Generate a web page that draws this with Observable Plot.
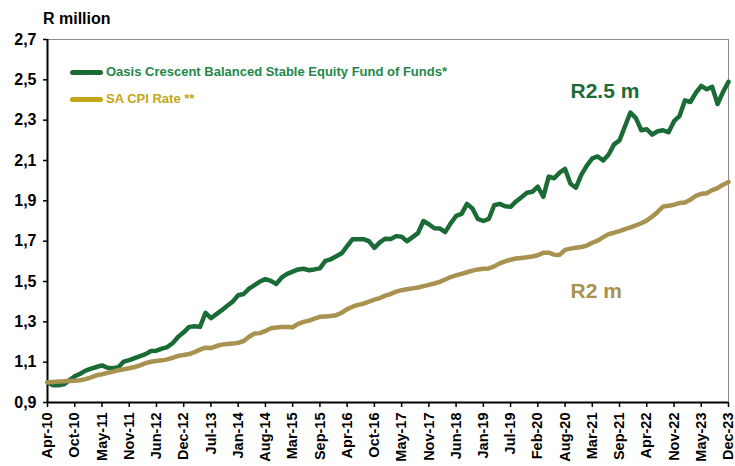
<!DOCTYPE html>
<html><head><meta charset="utf-8">
<script src="https://cdn.jsdelivr.net/npm/d3@7"></script>
<script src="https://cdn.jsdelivr.net/npm/@observablehq/plot@0.6"></script>
<style>
body{margin:0;background:#fff;font-family:"Liberation Sans",Arial,sans-serif;}
#wrap{position:relative;width:735px;height:466px;overflow:hidden;}
#ytitle{position:absolute;left:43px;top:11px;font-size:16px;line-height:16px;font-weight:bold;color:#000;}
.leg{position:absolute;left:70px;font-size:13px;font-weight:bold;line-height:14px;white-space:nowrap;display:flex;align-items:center;}
.sw{display:inline-block;width:33px;height:5px;border-radius:3px;margin-right:3px;}
</style></head><body><div id="wrap"></div>
<script>
// X tick labels (one every 5 samples)
const tickLabels = ["Apr-10","Oct-10","May-11","Nov-11","Jun-12","Dec-12","Jul-13","Jan-14","Aug-14","Mar-15","Sep-15","Apr-16","Oct-16","May-17","Nov-17","Jun-18","Jan-19","Jul-19","Feb-20","Aug-20","Mar-21","Sep-21","Apr-22","Nov-22","May-23","Dec-23"];
const yTicks = [0.9,1.1,1.3,1.5,1.7,1.9,2.1,2.3,2.5,2.7];
const seriesNames = ["Oasis Crescent Balanced Stable Equity Fund of Funds*","SA CPI Rate **"];
const seriesColors = ["#1b6b37","#a8924f"];
const legendColors = ["#1b6b37","#c3a51a"];
const legendTextColors = ["#22884a","#c3a51a"];
const endLabels = ["R2.5 m","R2 m"];
const endLabelAt = [[96,2.443],[96,1.45]];

// Fund value (R million), sampled evenly Apr-10 .. Dec-23
const fund = [1.00,0.985,0.985,0.99,1.01,1.03,1.043,1.058,1.068,1.076,
1.084,1.072,1.07,1.075,1.103,1.11,1.12,1.13,1.14,1.155,
1.157,1.167,1.175,1.195,1.226,1.248,1.275,1.278,1.275,1.345,
1.318,1.338,1.358,1.38,1.40,1.432,1.438,1.465,1.482,1.50,
1.512,1.503,1.488,1.52,1.538,1.549,1.56,1.563,1.556,1.56,
1.565,1.602,1.61,1.625,1.64,1.675,1.71,1.71,1.71,1.70,
1.667,1.694,1.712,1.711,1.725,1.722,1.70,1.72,1.74,1.80,
1.784,1.764,1.763,1.745,1.788,1.825,1.835,1.885,1.862,1.81,
1.80,1.81,1.878,1.885,1.873,1.87,1.897,1.918,1.94,1.945,
1.97,1.92,2.02,2.012,2.04,2.058,1.985,1.965,2.03,2.075,
2.11,2.12,2.10,2.13,2.18,2.20,2.27,2.338,2.31,2.25,
2.255,2.228,2.245,2.25,2.24,2.295,2.32,2.398,2.39,2.435,
2.47,2.453,2.465,2.38,2.44,2.49];

// SA CPI accumulated value (R million)
const cpi = [1.00,1.002,1.004,1.005,1.007,1.008,1.01,1.016,1.025,1.035,
1.04,1.047,1.053,1.06,1.065,1.07,1.076,1.084,1.095,1.102,
1.106,1.109,1.114,1.122,1.131,1.136,1.14,1.15,1.162,1.172,
1.17,1.18,1.187,1.19,1.192,1.196,1.205,1.226,1.242,1.244,
1.255,1.268,1.272,1.274,1.274,1.273,1.29,1.30,1.306,1.316,
1.325,1.327,1.329,1.333,1.345,1.363,1.375,1.384,1.39,1.40,
1.41,1.418,1.43,1.438,1.45,1.457,1.462,1.466,1.47,1.477,
1.483,1.49,1.498,1.51,1.522,1.53,1.538,1.546,1.554,1.56,
1.563,1.565,1.575,1.59,1.60,1.608,1.614,1.617,1.62,1.624,
1.63,1.642,1.643,1.633,1.632,1.657,1.663,1.667,1.671,1.678,
1.692,1.703,1.72,1.735,1.742,1.75,1.76,1.768,1.778,1.789,
1.803,1.822,1.845,1.872,1.876,1.881,1.889,1.892,1.905,1.925,
1.935,1.938,1.953,1.963,1.98,1.993];

const step = (fund.length - 1) / (tickLabels.length - 1);
const xTicks = tickLabels.map((_, k) => k * step);
const rows = [];
fund.forEach((v, i) => rows.push({i, v, s: seriesNames[0]}));
cpi.forEach((v, i) => rows.push({i, v, s: seriesNames[1]}));
const ann = endLabels.map((t, k) => ({t, x: endLabelAt[k][0], y: endLabelAt[k][1], c: seriesColors[k]}));

const plot = Plot.plot({
  width: 735, height: 466,
  marginLeft: 47, marginRight: 7, marginTop: 39, marginBottom: 64,
  style: {fontFamily: '"Liberation Sans", Arial, sans-serif', background: "#fff", color: "#000"},
  x: {type: "linear", domain: [0, fund.length - 1]},
  y: {domain: [0.9, 2.7]},
  marks: [
    Plot.frame({stroke: "#8c8c8c", strokeWidth: 1}),
    Plot.axisY({ticks: yTicks, tickFormat: d => d.toFixed(1).replace(".", ","), tickSize: 4, tickPadding: 7, fontSize: 16, fontWeight: "bold", strokeWidth: 1.5, label: null}),
    Plot.axisX({ticks: xTicks, tickFormat: (d) => tickLabels[Math.round(d / step)], tickRotate: -90, tickSize: 5, tickPadding: 5, fontSize: 14.5, fontWeight: "bold", strokeWidth: 1.5, label: null}),
    Plot.ruleX([0], {stroke: "#000", strokeWidth: 2}),
    Plot.ruleY([0.9], {stroke: "#000", strokeWidth: 2}),
    Plot.line(rows.filter(r => r.s === seriesNames[0]), {x: "i", y: "v", stroke: seriesColors[0], strokeWidth: 4.5, strokeLinejoin: "round", strokeLinecap: "round"}),
    Plot.line(rows.filter(r => r.s === seriesNames[1]), {x: "i", y: "v", stroke: seriesColors[1], strokeWidth: 4.5, strokeLinejoin: "round", strokeLinecap: "round"}),
    Plot.text(ann, {x: "x", y: "y", text: "t", fill: "c", fontSize: 21, fontWeight: "bold", textAnchor: "start"})
  ]
});

const wrap = document.getElementById("wrap");
wrap.appendChild(plot);
const t = document.createElement("div");
t.id = "ytitle"; t.textContent = "R million";
wrap.appendChild(t);
seriesNames.forEach((name, k) => {
  const d = document.createElement("div");
  d.className = "leg";
  d.style.top = (65 + k * 27) + "px";
  d.style.color = legendTextColors[k];
  const sw = document.createElement("span");
  sw.className = "sw"; sw.style.background = legendColors[k];
  d.appendChild(sw);
  d.appendChild(document.createTextNode(name));
  wrap.appendChild(d);
});
</script></body></html>
